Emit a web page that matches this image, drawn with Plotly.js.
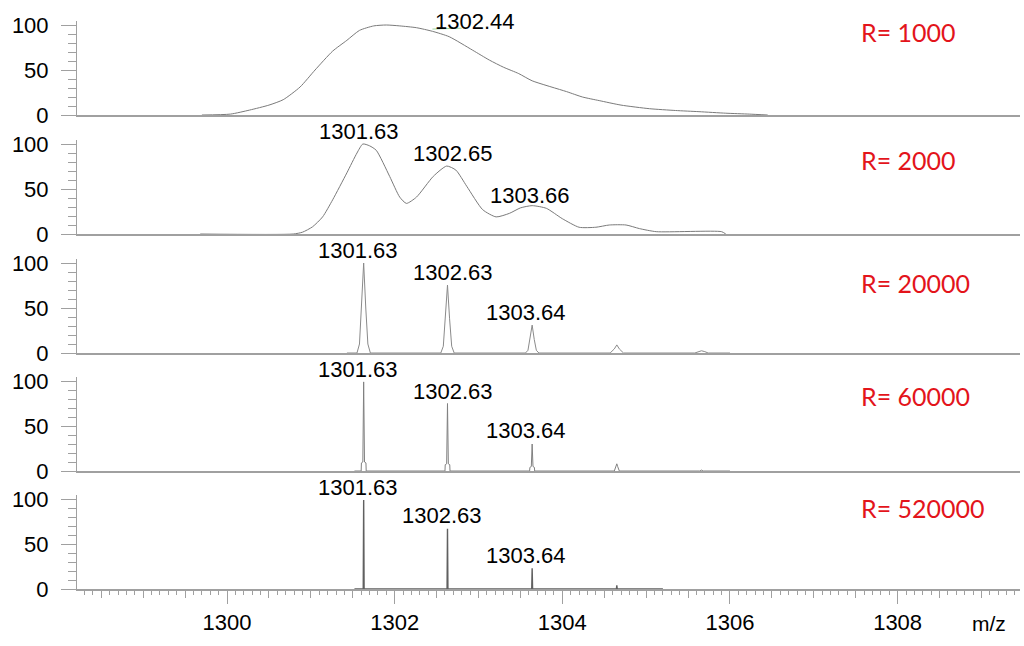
<!DOCTYPE html>
<html>
<head>
<meta charset="utf-8">
<script src="https://cdn.plot.ly/plotly-3.0.1.min.js"></script>
<style>html,body{margin:0;padding:0;background:#fff;}#chart{width:1024px;height:646px;}</style>
</head>
<body>
<div id="chart"></div>
<script>
// ---- Data ----
const resolutions = ["R= 1000", "R= 2000", "R= 20000", "R= 60000", "R= 520000"];

const mzR1000 = [1299.7, 1300.04, 1300.27, 1300.5, 1300.67, 1300.87, 1301.05, 1301.26, 1301.43, 1301.58, 1301.75, 1301.9, 1302.06, 1302.26, 1302.45, 1302.65, 1302.93, 1303.13, 1303.3, 1303.48, 1303.64, 1304.05, 1304.24, 1304.44, 1304.7, 1305.04, 1305.35, 1305.63, 1305.95, 1306.23, 1306.45];
const intR1000 = [0, 1, 5.5, 11, 17, 31, 50, 71, 83, 94, 99, 100, 99, 97, 93, 87, 72, 61, 53, 46, 38, 26, 20, 16, 11, 7, 5, 3.7, 2, 1, 0];

const mzR2000 = [1299.68, 1300.79, 1300.9, 1301.02, 1301.14, 1301.26, 1301.43, 1301.55, 1301.62, 1301.7, 1301.78, 1301.94, 1302.06, 1302.14, 1302.26, 1302.46, 1302.62, 1302.73, 1302.86, 1303.05, 1303.21, 1303.37, 1303.5, 1303.64, 1303.81, 1304.0, 1304.2, 1304.4, 1304.56, 1304.76, 1304.92, 1305.12, 1305.9, 1305.95];
const intR2000 = [0, 0, 2, 8, 19, 38, 68, 90, 100, 98, 93, 64, 41, 34, 41, 64, 75.5, 71, 53, 27, 19, 23, 29, 31.5, 28.5, 17, 7.5, 7.5, 10, 10, 6, 2.6, 2.6, 0];

const mzR20000 = [1301.43, 1301.55, 1301.58, 1301.60, 1301.63, 1301.655, 1301.68, 1301.71,
                  1302.55, 1302.58, 1302.605, 1302.63, 1302.655, 1302.68, 1302.71,
                  1303.56, 1303.59, 1303.615, 1303.64, 1303.665, 1303.69, 1303.72,
                  1304.57, 1304.62, 1304.65, 1304.68, 1304.73,
                  1305.58, 1305.62, 1305.66, 1305.70, 1305.74, 1306.0];
const intR20000 = [0, 0, 10, 50, 100, 50, 10, 0,
                   0, 7.5, 38, 75.5, 38, 7.5, 0,
                   0, 3, 15, 31, 15, 3, 0,
                   0, 4.5, 9, 4.5, 0,
                   0, 1.5, 2.5, 1.5, 0, 0];

const mzR60000 = [1301.52, 1301.600, 1301.603, 1301.620, 1301.630, 1301.640, 1301.657, 1301.660,
                  1302.600, 1302.603, 1302.620, 1302.630, 1302.640, 1302.657, 1302.660,
                  1303.610, 1303.613, 1303.630, 1303.640, 1303.650, 1303.667, 1303.670,
                  1304.62, 1304.64, 1304.65, 1304.66, 1304.68,
                  1305.64, 1305.66, 1305.68, 1306.0];
const intR60000 = [0, 0, 9, 10, 99, 10, 9, 0,
                   0, 7, 8, 75, 8, 7, 0,
                   0, 4, 5, 30, 5, 4, 0,
                   0, 5, 8, 5, 0,
                   0, 1, 0, 0];

const mzR520000 = [1301.52, 1301.625, 1301.63, 1301.635, 1302.625, 1302.63, 1302.635, 1303.635, 1303.64, 1303.645, 1304.645, 1304.65, 1304.655, 1305.2];
const intR520000 = [0, 0, 99, 0, 0, 67, 0, 0, 23, 0, 0, 4, 0, 0];

const peakText = [["1302.44"], ["1301.63", "1302.65", "1303.66"], ["1301.63", "1302.63", "1303.64"], ["1301.63", "1302.63", "1303.64"], ["1301.63", "1302.63", "1303.64"]];

const mzSeries = [mzR1000, mzR2000, mzR20000, mzR60000, mzR520000];
const intSeries = [intR1000, intR2000, intR20000, intR60000, intR520000];

// ---- Layout helpers (positions only) ----
const labelPos = [
  [[1302.96, 104]],
  [[1301.57, 114], [1302.70, 89], [1303.61, 43]],
  [[1301.56, 114], [1302.69, 90], [1303.57, 45.5]],
  [[1301.56, 113], [1302.69, 88], [1303.57, 45]],
  [[1301.56, 113], [1302.57, 82], [1303.57, 37]]
];
const rLabelY = [92, 82, 78, 83, 90];
const baselinePx = [115, 234, 353, 471, 589];
const H = 646, mT = 10, mB = 57;
const plotH = H - mT - mB;
const YMAX = 105;
const pxPer100 = 90;
const xRange = [1298.21, 1309.46];
const gray = '#a0a0a0';
const lineColors = ['#7a7a7a', '#7a7a7a', '#8a8a8a', '#808080', '#606060'];
const lineWidths = [1, 1, 1, 1, 1.4];
const lineShapes = ['spline', 'spline', 'linear', 'linear', 'linear'];
const FS = 22;

const traces = [];
const layout = {
  width: 1024, height: 646,
  margin: {l: 77, r: 4, t: mT, b: mB},
  paper_bgcolor: '#fff', plot_bgcolor: '#fff',
  showlegend: false,
  font: {family: 'Liberation Sans, Arial, sans-serif', size: FS, color: '#000'},
  annotations: [],
  shapes: []
};

for (let i = 0; i < 5; i++) {
  const k = i + 1;
  traces.push({
    type: 'scatter', mode: 'lines',
    x: mzSeries[i], y: intSeries[i],
    xaxis: 'x' + k, yaxis: 'y' + k,
    line: {color: lineColors[i], width: lineWidths[i], shape: lineShapes[i], smoothing: 0.6},
    hoverinfo: 'skip'
  });
  const start = (plotH + mT - baselinePx[i]) / plotH;
  const end = start + (pxPer100 * YMAX / 100) / plotH;
  layout['yaxis' + k] = {
    domain: [start, Math.min(end, 1)], range: [0, YMAX], anchor: 'x' + k,
    tick0: 0, dtick: 50, ticks: 'outside', ticklen: 15, tickwidth: 1, tickcolor: gray,
    minor: {dtick: 10, tick0: 0, ticks: 'outside', ticklen: 8, tickcolor: gray, tickwidth: 1},
    showline: true, linecolor: gray, linewidth: 1,
    showgrid: false, zeroline: false, fixedrange: true,
    ticklabelstandoff: 8,
    tickfont: {size: FS, color: '#000'}
  };
  const xa = {
    anchor: 'y' + k, domain: [0, 1], range: xRange,
    showline: true, linecolor: gray, linewidth: 1.5,
    showgrid: false, zeroline: false, fixedrange: true
  };
  if (k < 5) {
    xa.matches = 'x5';
    xa.showticklabels = false;
    xa.ticks = '';
  } else {
    Object.assign(xa, {
      tick0: 1300, dtick: 2, ticks: 'outside', ticklen: 13, tickcolor: gray, tickwidth: 1,
      minor: {tick0: 1300, dtick: 0.1, ticks: 'outside', ticklen: 4, tickcolor: gray, tickwidth: 1},
      tickfont: {size: FS, color: '#000'}
    });
  }
  layout['xaxis' + k] = xa;

  // labels: x in data units, y given as fraction of the panel (so labels above 100 still show)
  peakText[i].forEach((t, j) => {
    layout.annotations.push({
      text: t, x: labelPos[i][j][0], y: labelPos[i][j][1] / YMAX,
      xref: 'x' + k, yref: 'y' + k + ' domain', showarrow: false,
      xanchor: 'center', yanchor: 'middle',
      font: {family: 'Liberation Sans, Arial, sans-serif', size: FS, color: '#000'}
    });
  });
  layout.annotations.push({
    text: resolutions[i], x: 1307.54, y: rLabelY[i] / YMAX,
    xref: 'x' + k, yref: 'y' + k + ' domain', showarrow: false,
    xanchor: 'left', yanchor: 'middle',
    font: {family: 'Lato, Carlito, sans-serif', size: 25, color: '#e3141b'}
  });
}

// medium (0.5) ticks on the bottom axis via an overlaid axis
layout.xaxis6 = {
  overlaying: 'x5', anchor: 'y5', range: xRange, side: 'bottom',
  tick0: 1300, dtick: 0.5, ticks: 'outside', ticklen: 8, tickcolor: gray, tickwidth: 1,
  showticklabels: false, showline: false, showgrid: false, zeroline: false, fixedrange: true
};
traces.push({type: 'scatter', mode: 'lines', x: [], y: [], xaxis: 'x6', yaxis: 'y5', hoverinfo: 'skip'});

// faint green mark under the first label
layout.shapes.push({type: 'line', xref: 'x1', yref: 'y1', x0: 1302.45, x1: 1302.8, y0: 95.5, y1: 96.5,
  line: {color: '#9fd89f', width: 1}});

layout.annotations.push({
  text: 'm/z', xref: 'paper', yref: 'paper', x: 0.967, y: -0.06,
  xanchor: 'center', yanchor: 'middle', showarrow: false,
  font: {family: 'Liberation Sans, Arial, sans-serif', size: 21, color: '#000'}
});

Plotly.newPlot('chart', traces, layout, {staticPlot: true, displayModeBar: false});
</script>
</body>
</html>
